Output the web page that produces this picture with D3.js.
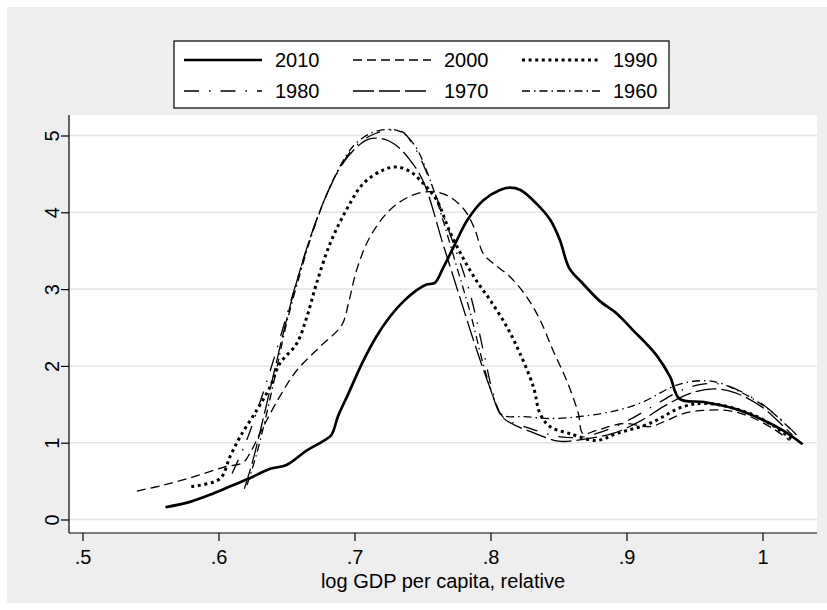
<!DOCTYPE html>
<html>
<head>
<meta charset="utf-8">
<script src="https://cdn.jsdelivr.net/npm/d3@7/dist/d3.min.js"></script>
<style>
  html, body { margin: 0; padding: 0; background: #ffffff; }
  svg { display: block; font-family: "Liberation Sans", Arial, sans-serif; }
</style>
</head>
<body>
<svg id="chart" width="827" height="610"></svg>
<script>
// Kernel density of log GDP per capita (relative), by decade
const years = ["2010", "2000", "1990", "1980", "1970", "1960"];
const xTicks = [0.5, 0.6, 0.7, 0.8, 0.9, 1.0];
const xTickLabels = [".5", ".6", ".7", ".8", ".9", "1"];
const yTicks = [0, 1, 2, 3, 4, 5];
const xTitle = "log GDP per capita, relative";

const d2010 = [[0.561,0.16],[0.579,0.23],[0.595,0.33],[0.611,0.45],[0.622,0.53],[0.638,0.66],[0.650,0.71],
  [0.665,0.90],[0.677,1.02],[0.683,1.10],[0.688,1.35],[0.695,1.62],[0.706,2.05],[0.716,2.38],[0.726,2.64],
  [0.736,2.84],[0.746,2.99],[0.753,3.06],[0.759,3.08],[0.765,3.27],[0.774,3.59],[0.783,3.90],[0.795,4.16],
  [0.807,4.29],[0.814,4.32],[0.822,4.29],[0.834,4.11],[0.844,3.90],[0.851,3.64],[0.858,3.27],[0.868,3.07],
  [0.880,2.85],[0.893,2.68],[0.905,2.46],[0.914,2.30],[0.922,2.14],[0.932,1.86],[0.939,1.57],[0.957,1.53],
  [0.979,1.445],[0.998,1.315],[1.015,1.16],[1.0295,0.98]];

const d2000 = [[0.540,0.37],[0.560,0.45],[0.5815,0.555],[0.6035,0.68],[0.618,0.74],[0.623,0.86],[0.633,1.21],
  [0.645,1.60],[0.6575,1.94],[0.6746,2.25],[0.6906,2.53],[0.6955,2.81],[0.7016,3.25],[0.7114,3.68],
  [0.726,4.03],[0.741,4.21],[0.7555,4.27],[0.768,4.22],[0.780,4.05],[0.788,3.80],[0.7947,3.46],[0.801,3.35],
  [0.8143,3.16],[0.8266,2.90],[0.8364,2.60],[0.846,2.20],[0.856,1.81],[0.8646,1.38],[0.868,1.12],
  [0.878,1.16],[0.8977,1.25],[0.917,1.21],[0.9296,1.29],[0.9417,1.38],[0.9565,1.42],[0.9737,1.42],
  [0.9908,1.34],[1.008,1.18],[1.020,1.03]];

const d1990 = [[0.580,0.43],[0.601,0.53],[0.6085,0.82],[0.616,1.08],[0.628,1.42],[0.638,1.73],[0.645,2.03],
  [0.6575,2.29],[0.665,2.64],[0.672,3.07],[0.682,3.59],[0.694,4.03],[0.7065,4.375],[0.721,4.55],[0.731,4.59],
  [0.741,4.53],[0.7506,4.375],[0.7604,4.16],[0.770,3.75],[0.780,3.40],[0.790,3.10],[0.7996,2.86],
  [0.812,2.51],[0.8217,2.16],[0.8315,1.73],[0.8364,1.38],[0.8437,1.21],[0.858,1.12],[0.878,1.03],
  [0.8928,1.12],[0.917,1.25],[0.9417,1.47],[0.961,1.51],[0.9908,1.38],[1.008,1.22],[1.022,1.04]];

const d1980 = [[0.610,0.60],[0.620,1.00],[0.630,1.50],[0.640,2.05],[0.650,2.65],[0.660,3.25],[0.670,3.80],
  [0.680,4.25],[0.690,4.60],[0.700,4.85],[0.712,5.00],[0.725,5.07],[0.735,5.05],[0.745,4.82],[0.758,4.30],
  [0.7726,3.60],[0.785,2.94],[0.7947,2.20],[0.802,1.64],[0.809,1.34],[0.830,1.18],[0.850,1.08],[0.865,1.07],
  [0.880,1.13],[0.900,1.28],[0.920,1.48],[0.940,1.68],[0.955,1.76],[0.970,1.76],[0.985,1.66],[1.000,1.50],
  [1.015,1.28],[1.025,1.10]];

const d1970 = [[0.619,0.40],[0.625,0.75],[0.632,1.25],[0.640,1.85],[0.650,2.60],[0.660,3.25],[0.670,3.80],
  [0.680,4.25],[0.690,4.60],[0.700,4.82],[0.710,4.95],[0.720,4.96],[0.730,4.88],[0.740,4.70],[0.7506,4.40],
  [0.765,3.59],[0.772,3.20],[0.780,2.75],[0.790,2.20],[0.800,1.70],[0.809,1.33],[0.830,1.14],[0.850,1.02],
  [0.858,1.02],[0.870,1.05],[0.890,1.12],[0.910,1.28],[0.930,1.50],[0.950,1.66],[0.965,1.70],[0.980,1.65],
  [1.000,1.46],[1.015,1.22],[1.022,1.10]];

const d1960 = [[0.621,0.45],[0.628,0.85],[0.635,1.35],[0.642,1.90],[0.650,2.55],[0.660,3.20],[0.670,3.78],
  [0.680,4.25],[0.690,4.62],[0.700,4.88],[0.712,5.03],[0.725,5.08],[0.735,5.04],[0.745,4.85],[0.755,4.45],
  [0.765,3.90],[0.775,3.30],[0.785,2.70],[0.795,2.00],[0.803,1.55],[0.809,1.36],[0.825,1.34],[0.844,1.315],
  [0.868,1.345],[0.893,1.42],[0.912,1.53],[0.934,1.73],[0.949,1.80],[0.966,1.79],[0.986,1.64],[1.0055,1.42],
  [1.022,1.15]];

const seriesData = [d2010, d2000, d1990, d1980, d1970, d1960];

// line patterns for each decade
const styles = [
  { width: 2.7, dash: null },
  { width: 1.3, dash: "9,5" },
  { width: 3.0, dash: "3,3.6" },
  { width: 1.3, dash: "15,10,1.5,10" },
  { width: 1.3, dash: "21,5" },
  { width: 1.3, dash: "8,4,1.5,4" }
];

const svg = d3.select("#chart");

// outer graph region
svg.append("rect").attr("x", 7).attr("y", 7).attr("width", 820).attr("height", 596).attr("fill", "#eeeeee");

// plot region
const plot = { left: 69, right: 817, top: 115, bottom: 533 };
svg.append("rect").attr("x", plot.left).attr("y", plot.top)
  .attr("width", plot.right - plot.left).attr("height", plot.bottom - plot.top).attr("fill", "#ffffff");

const x = d3.scaleLinear().domain([0.5, 1.0]).range([82.5, 762.5]);
const y = d3.scaleLinear().domain([0, 5]).range([519.5, 135.5]);

// horizontal gridlines
svg.append("g").selectAll("line").data(yTicks).join("line")
  .attr("x1", plot.left).attr("x2", plot.right)
  .attr("y1", d => y(d)).attr("y2", d => y(d))
  .attr("stroke", "#e4e4e4").attr("stroke-width", 1.5);

// curves
const line = d3.line().x(d => x(d[0])).y(d => y(d[1])).curve(d3.curveCatmullRom.alpha(0.5));
const curves = svg.append("g");
seriesData.forEach((data, i) => {
  curves.append("path").datum(data)
    .attr("d", line)
    .attr("fill", "none")
    .attr("stroke", "#000")
    .attr("stroke-width", styles[i].width)
    .attr("stroke-dasharray", styles[i].dash)
    .attr("stroke-linejoin", "round");
});

// y axis
const yAxis = svg.append("g").attr("transform", `translate(${plot.left},0)`)
  .call(d3.axisLeft(y).tickValues(yTicks).tickSize(8).tickPadding(8).tickFormat(d3.format("d")));
yAxis.select(".domain").attr("d", `M0,${plot.top}V${plot.bottom}`).attr("stroke", "#000").attr("stroke-width", 1.2);
yAxis.selectAll(".tick line").attr("stroke", "#000").attr("stroke-width", 1.2);
yAxis.selectAll(".tick text")
  .attr("font-size", 20).attr("fill", "#000")
  .attr("text-anchor", "middle")
  .attr("x", null).attr("dy", null)
  .attr("transform", "translate(-17,0) rotate(-90)")
  .attr("dy", "0.35em");

// x axis
const xAxis = svg.append("g").attr("transform", `translate(0,${plot.bottom})`)
  .call(d3.axisBottom(x).tickValues(xTicks).tickSize(8).tickPadding(8)
    .tickFormat((d, i) => xTickLabels[i]));
xAxis.select(".domain").attr("d", `M${plot.left},0H${plot.right}`).attr("stroke", "#000").attr("stroke-width", 1.2);
xAxis.selectAll(".tick line").attr("stroke", "#000").attr("stroke-width", 1.2);
xAxis.selectAll(".tick text").attr("font-size", 20).attr("fill", "#000").attr("dy", null).attr("y", 31);

// x axis title
svg.append("text").attr("x", (plot.left + plot.right) / 2).attr("y", 588)
  .attr("text-anchor", "middle").attr("font-size", 20).attr("fill", "#000").text(xTitle);

// legend
const legend = svg.append("g");
legend.append("rect").attr("x", 174).attr("y", 41).attr("width", 495).attr("height", 67)
  .attr("fill", "#fff").attr("stroke", "#000").attr("stroke-width", 1.2);
const colX = [184, 353, 522];
const rowY = [60, 91];
years.forEach((yr, i) => {
  const cx = colX[i % 3], cy = rowY[Math.floor(i / 3)];
  legend.append("line").attr("x1", cx).attr("x2", cx + 78).attr("y1", cy).attr("y2", cy)
    .attr("stroke", "#000").attr("stroke-width", styles[i].width)
    .attr("stroke-dasharray", styles[i].dash);
  legend.append("text").attr("x", cx + 91).attr("y", cy + 7)
    .attr("font-size", 20).attr("fill", "#000").text(yr);
});
</script>
</body>
</html>
